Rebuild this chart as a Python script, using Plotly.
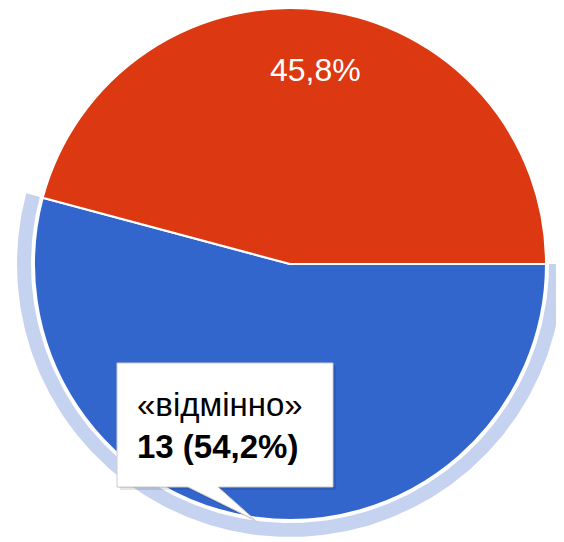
import numpy as np
import plotly.graph_objects as go

# ---- data ----
labels = ["«відмінно»", "«добре»"]
values = [13, 11]
colors = ["#3366cc", "#dc3912"]
ring_color = "#c5d3f0"
hovered = 0  # index of the highlighted slice (tooltip shown)

total = sum(values)
pcts = [v / total * 100 for v in values]


def fmt_pct(p):
    return f"{p:.1f}".replace(".", ",") + "%"


# ---- geometry (screen pixels, origin top-left of the window) ----
OFF = 8                      # default page body margin
SW, SH = 564, 542            # window size
W, H = SW - OFF, SH - OFF    # figure size
CX, CY, R = 290, 264, 256    # pie centre / radius in screen pixels
ROT = 90                     # first slice starts at 3 o'clock, clockwise
FONT = "Arial, Liberation Sans, sans-serif"

fig = go.Figure()

# highlight ring around the hovered slice, derived from the data angles
a0 = ROT + sum(values[:hovered]) / total * 360
a1 = a0 + values[hovered] / total * 360
th = np.radians(np.linspace(a0, a1, 240))
ri, ro = R + 3, R + 17
ring_x = np.concatenate([CX + ro * np.sin(th), CX + ri * np.sin(th[::-1])])
ring_y = np.concatenate([CY - ro * np.cos(th), CY - ri * np.cos(th[::-1])])
fig.add_trace(go.Scatter(
    x=ring_x, y=ring_y, mode="lines", fill="toself", fillcolor=ring_color,
    line=dict(width=0, color=ring_color), hoverinfo="skip", showlegend=False,
))

# pie
fx, fy = CX - OFF, CY - OFF
fig.add_trace(go.Pie(
    labels=labels, values=values, sort=False, direction="clockwise",
    rotation=ROT,
    marker=dict(colors=colors, line=dict(color="white", width=2)),
    textinfo="none",
    domain=dict(x=[(fx - R) / W, (fx + R) / W],
                y=[max(0, (H - fy - R) / H), min(1, (H - fy + R) / H)]),
    hoverinfo="none", showlegend=False,
))

annotations = []
# slice percentage labels (the hovered one is hidden under the tooltip)
cum = 0
for i, v in enumerate(values):
    mid = np.radians(ROT + (cum + v / 2) / total * 360)
    cum += v
    if i == hovered:
        continue
    lr = 0.766 * R
    annotations.append(dict(
        x=CX + lr * np.sin(mid), y=CY - lr * np.cos(mid), xref="x", yref="y",
        text=fmt_pct(pcts[i]), showarrow=False, xanchor="center", yanchor="middle",
        font=dict(family=FONT, size=32, color="white"),
    ))

# tooltip box with tail
bx0, by0, bx1, by1 = 117, 363, 333, 487
tail = [(218, 487), (255, 520), (188, 487)]


def box_path(dx=0, dy=0):
    pts = [(bx0, by0), (bx1, by0), (bx1, by1), tail[0], tail[1], tail[2], (bx0, by1)]
    return "M " + " L ".join(f"{x + dx},{y + dy}" for x, y in pts) + " Z"


shapes = [
    dict(type="path", path=box_path(3, 3), xref="x", yref="y",
         fillcolor="rgba(0,0,0,0.10)", line=dict(width=0), layer="above"),
    dict(type="path", path=box_path(1, 1), xref="x", yref="y",
         fillcolor="rgba(0,0,0,0.10)", line=dict(width=0), layer="above"),
    dict(type="path", path=box_path(), xref="x", yref="y",
         fillcolor="white", line=dict(color="#cccccc", width=1), layer="above"),
]

tip_font = dict(family=FONT, size=33, color="#000000")
annotations += [
    dict(x=135, y=404, xref="x", yref="y", text=labels[hovered], showarrow=False,
         xanchor="left", yanchor="middle", font=tip_font),
    dict(x=135, y=446, xref="x", yref="y",
         text=f"<b>{values[hovered]} ({fmt_pct(pcts[hovered])})</b>", showarrow=False,
         xanchor="left", yanchor="middle", font=tip_font),
]

fig.update_layout(
    width=W, height=H, margin=dict(l=0, r=0, t=0, b=0),
    paper_bgcolor="white", plot_bgcolor="white", showlegend=False,
    xaxis=dict(range=[OFF, SW], visible=False, fixedrange=True),
    yaxis=dict(range=[SH, OFF], visible=False, fixedrange=True),
    shapes=shapes, annotations=annotations,
)

fig.write_html("out.html")
